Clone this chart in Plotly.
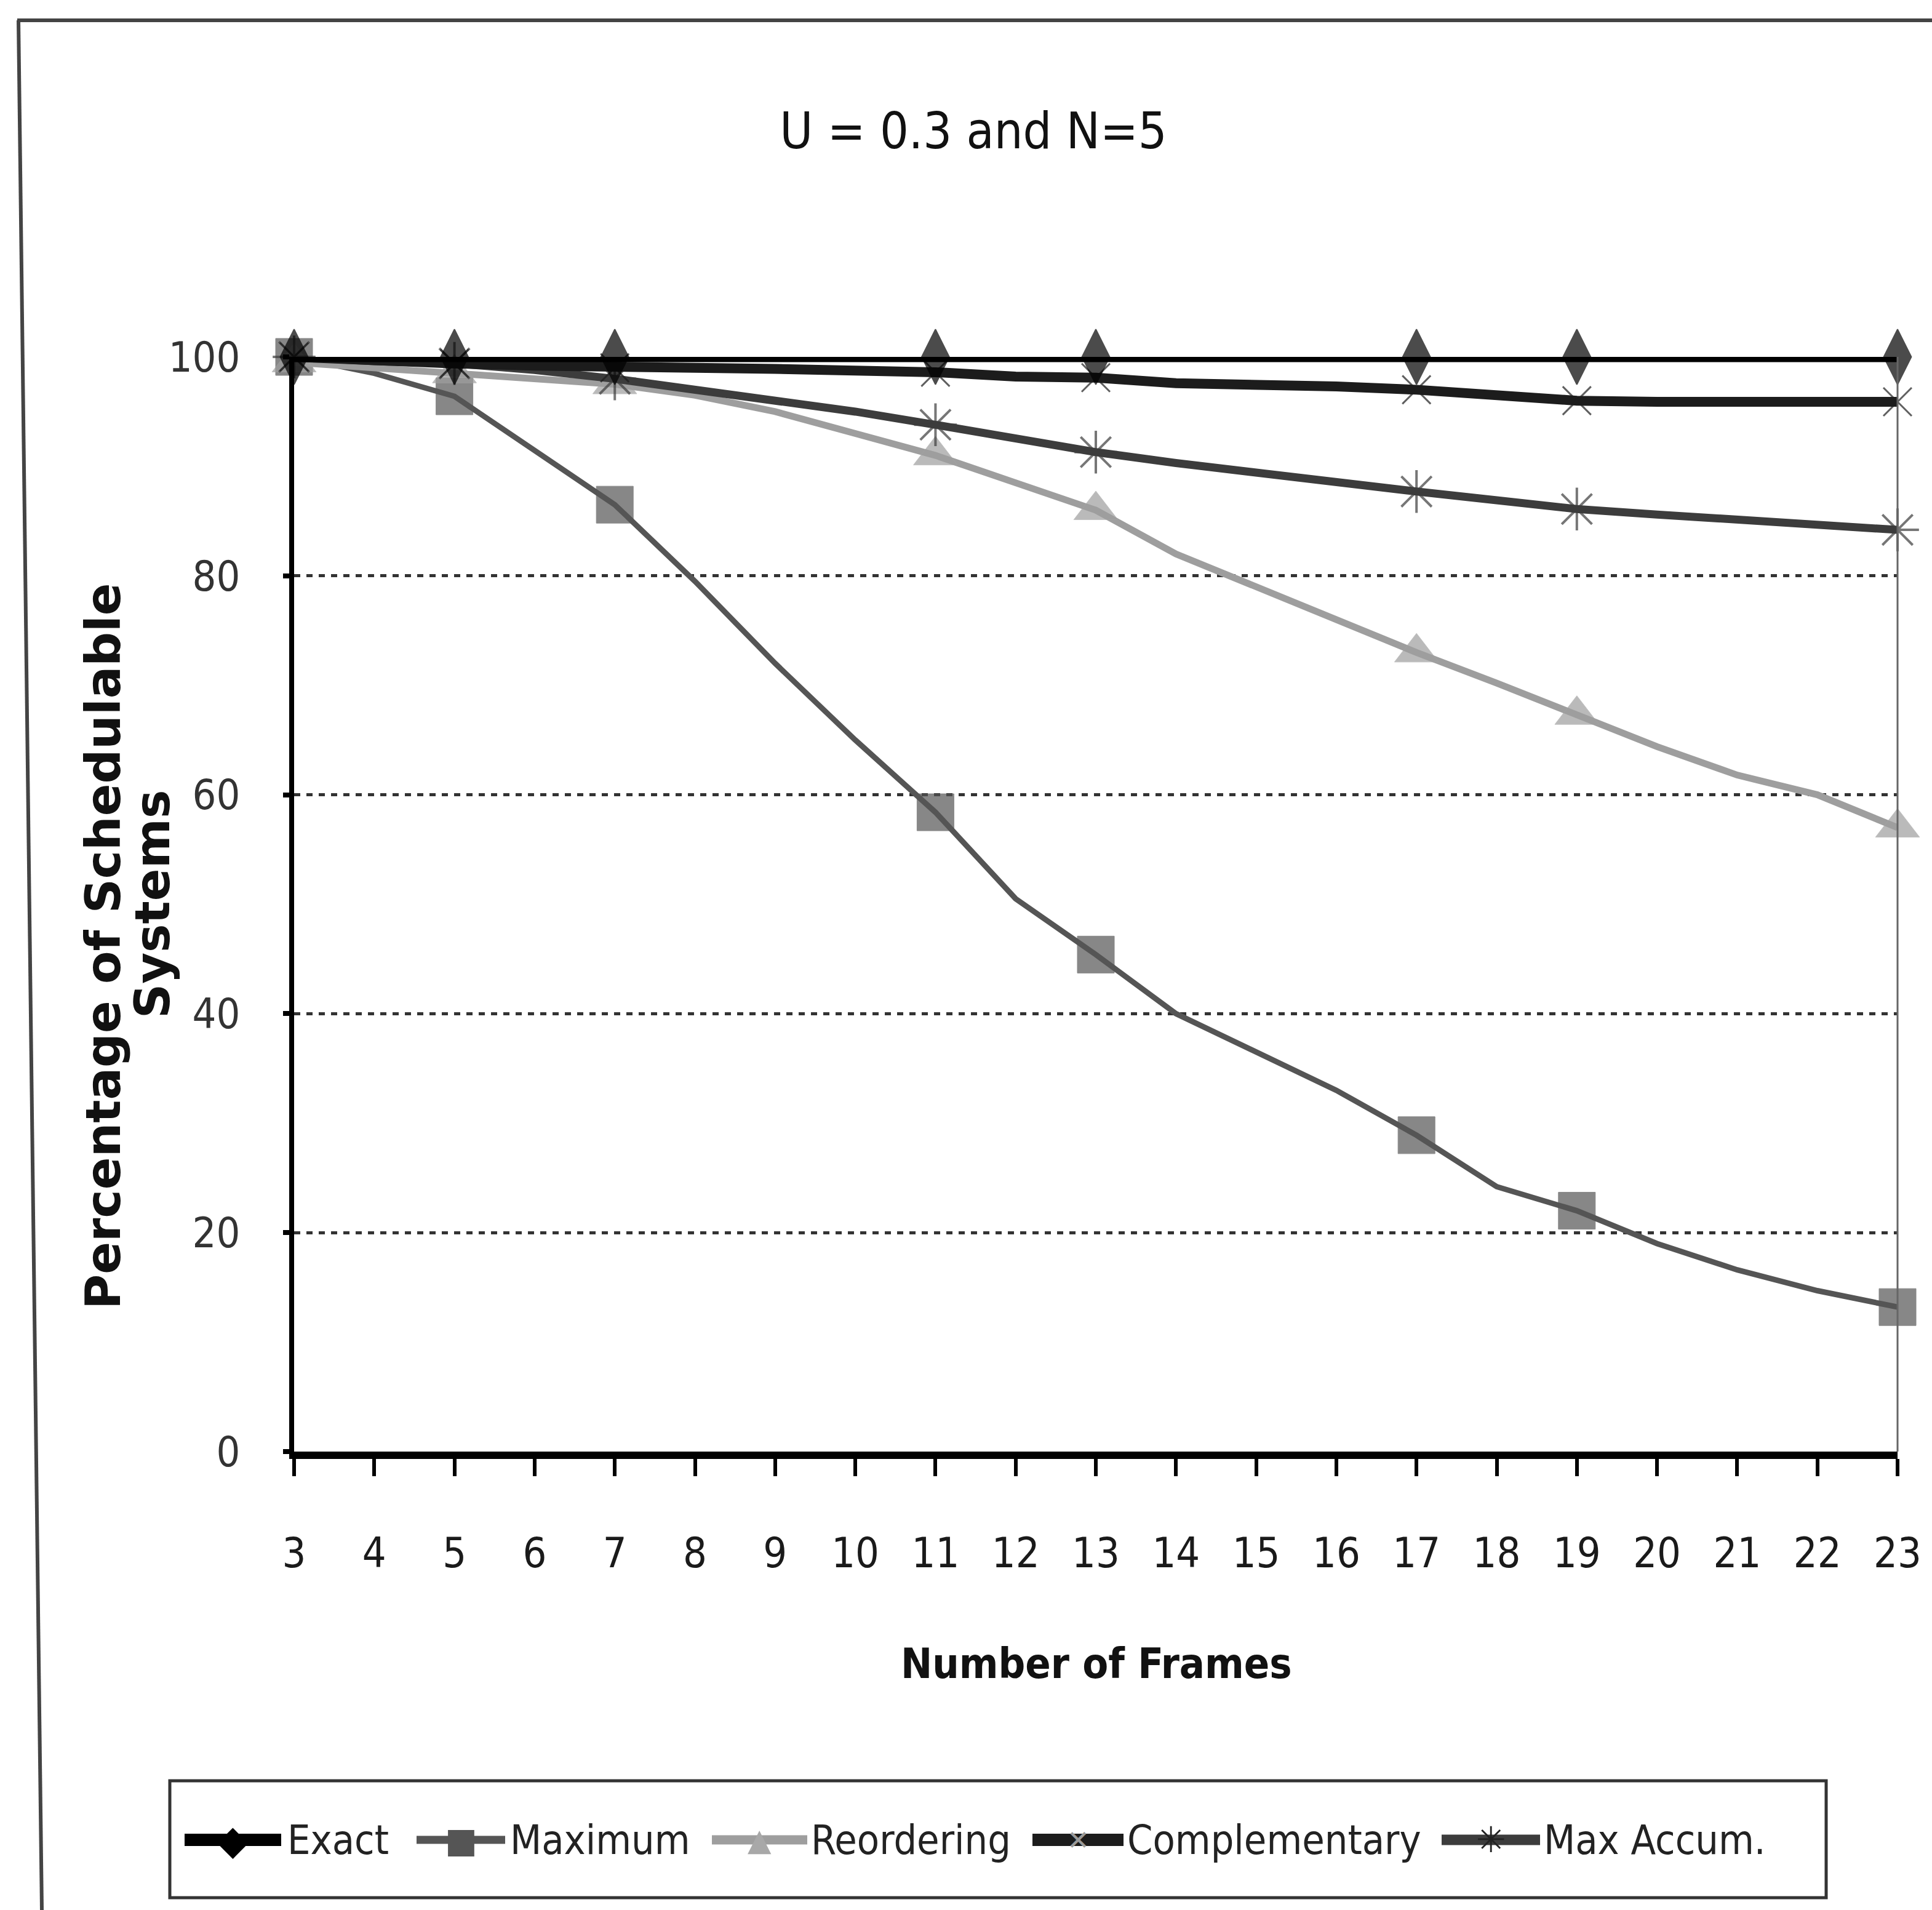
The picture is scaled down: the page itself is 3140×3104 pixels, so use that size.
import plotly.graph_objects as go

# ---------------- data ----------------
frames = [3, 4, 5, 6, 7, 8, 9, 10, 11, 12, 13, 14, 15, 16, 17, 18, 19, 20, 21, 22, 23]
marked_frames = [3, 5, 7, 11, 13, 17, 19, 23]

exact = [100, 100, 100, 100, 100, 100, 100, 100, 100, 100, 100,
         100, 100, 100, 100, 100, 100, 100, 100, 100, 100]
maximum = [100, 98.5, 96.4, 91.5, 86.5, 79.5, 72, 65, 58.4, 50.5, 45.4,
           40, 36.5, 33, 28.9, 24.2, 22.0, 19.0, 16.6, 14.7, 13.2]
reordering = [99.5, 99, 98.5, 98, 97.5, 96.5, 95, 93, 91, 88.5, 86,
              82, 79, 76, 73, 70.2, 67.3, 64.4, 61.8, 60, 57]
complementary = [100, 99.6, 99.4, 99.2, 99, 99, 98.9, 98.8, 98.6, 98.2, 98.1,
                 97.6, 97.5, 97.3, 97.0, 96.5, 96.0, 95.9, 95.9, 95.9, 95.9]
max_accum = [100, 99.6, 99.4, 98.8, 98, 97, 96, 95, 93.8, 92.6, 91.3,
             90.3, 89.4, 88.5, 87.7, 86.9, 86.1, 85.6, 85.1, 84.6, 84.2]

series_names = ["Exact", "Maximum", "Reordering", "Complementary", "Max Accum."]
y_ticks = [0, 20, 40, 60, 80, 100]

title_text = "U = 0.3 and N=5"
x_title = "Number of Frames"
y_title_1 = "Percentage of Schedulable"
y_title_2 = "Systems"

# ---------------- styling ----------------
NARROW = "Liberation Sans Narrow, Arial Narrow, DejaVu Sans Condensed, sans-serif"
W, H = 3140, 3104
L, R, T, B = 478, 3084, 580, 2359  # plot area box in pixels


def px(x):
    return (x - L) / (R - L)


def py(y):
    return (B - y) / (B - T)


styles = {
    "Exact": dict(color="#000000", width=17, symbol="diamond-tall", size=64,
                  mline="#000000", mlw=2, glyph="\u25C6", gsize=66, gcolor="#000000"),
    "Maximum": dict(color="#555555", width=9, symbol="square", size=60,
                    mline="#555555", mlw=1, glyph="\u25A0", gsize=56, gcolor="#555555"),
    "Reordering": dict(color="#9e9e9e", width=11, symbol="triangle-up", size=62,
                       mline="#a6a6a6", mlw=1, glyph="\u25B2", gsize=50, gcolor="#a8a8a8"),
    "Complementary": dict(color="#1c1c1c", width=16, symbol="x-thin-open", size=46,
                          mline="#8a8a8a", mlw=3, glyph="\u2715", gsize=44, gcolor="#9a9a9a"),
    "Max Accum.": dict(color="#3c3c3c", width=13, symbol="asterisk-open", size=58,
                       mline="#222222", mlw=4, glyph="\u2733", gsize=58, gcolor="#222222"),
}

values = {
    "Exact": exact,
    "Maximum": maximum,
    "Reordering": reordering,
    "Complementary": complementary,
    "Max Accum.": max_accum,
}

draw_order = ["Maximum", "Reordering", "Max Accum.", "Complementary", "Exact"]

fig = go.Figure()
for name in draw_order:
    st = styles[name]
    sizes = [st["size"] if f in marked_frames else 0 for f in frames]
    fig.add_trace(go.Scatter(
        x=frames, y=values[name], name=name, mode="lines+markers",
        line=dict(color=st["color"], width=st["width"]),
        marker=dict(symbol=st["symbol"], size=sizes, color=st["color"],
                    line=dict(color=st["mline"], width=st["mlw"])),
        cliponaxis=False, showlegend=False,
    ))

fig.update_layout(
    width=W, height=H,
    margin=dict(l=L, r=W - R, t=T, b=H - B, autoexpand=False),
    paper_bgcolor="white", plot_bgcolor="white",
    title=dict(text=title_text, x=1582 / W, xanchor="center",
               y=1 - 212 / H, yanchor="middle",
               font=dict(family=NARROW, size=82, color="#111111")),
    xaxis=dict(range=[3, 23], tickmode="array", tickvals=frames,
               ticktext=[str(f) for f in frames],
               showline=True, linecolor="#000000", linewidth=12,
               ticks="outside", ticklen=28, tickwidth=6, tickcolor="#000000",
               tickfont=dict(family=NARROW, size=68, color="#1a1a1a"),
               ticklabelstandoff=66,
               showgrid=False, zeroline=False),
    yaxis=dict(range=[0, 100], tickmode="array", tickvals=y_ticks,
               showline=True, linecolor="#000000", linewidth=8,
               ticks="outside", ticklen=10, tickwidth=8, tickcolor="#000000",
               tickfont=dict(family=NARROW, size=68, color="#333333"),
               ticklabelstandoff=56,
               showgrid=True, gridcolor="#333333", gridwidth=5,
               griddash="10px,10px", zeroline=False),
)

shapes = []
# thin right border of plot area
shapes.append(dict(type="line", xref="paper", yref="paper", x0=1, x1=1, y0=0, y1=1,
                   line=dict(color="#666666", width=3)))
# outer chart frame (top & left visible)
shapes.append(dict(type="line", xref="paper", yref="paper",
                   x0=px(28), x1=px(3140), y0=py(33), y1=py(33),
                   line=dict(color="#444444", width=6)))
shapes.append(dict(type="line", xref="paper", yref="paper",
                   x0=px(30), x1=px(68), y0=py(33), y1=py(3104),
                   line=dict(color="#444444", width=6)))
# legend box
shapes.append(dict(type="rect", xref="paper", yref="paper",
                   x0=px(276), x1=px(2968), y0=py(2894), y1=py(3084),
                   line=dict(color="#333333", width=5), fillcolor="rgba(0,0,0,0)"))

annotations = []
# axis titles
annotations.append(dict(text="<b>" + x_title + "</b>", xref="paper", yref="paper",
                        x=px(1782), y=py(2703), xanchor="center", yanchor="middle",
                        showarrow=False, font=dict(family=NARROW, size=68, color="#111111")))
annotations.append(dict(text="<b>" + y_title_1 + "</b>", xref="paper", yref="paper",
                        x=px(168), y=py(1538), xanchor="center", yanchor="middle",
                        textangle=-90, showarrow=False,
                        font=dict(family="DejaVu Sans", size=78, color="#111111")))
annotations.append(dict(text="<b>" + y_title_2 + "</b>", xref="paper", yref="paper",
                        x=px(248), y=py(1470), xanchor="center", yanchor="middle",
                        textangle=-90, showarrow=False,
                        font=dict(family="DejaVu Sans", size=78, color="#111111")))

# manual legend
legend_slots = {  # (line start, line end, text start) in pixels
    "Exact": (300, 457, 465),
    "Maximum": (677, 821, 827),
    "Reordering": (1157, 1312, 1316),
    "Complementary": (1678, 1826, 1830),
    "Max Accum.": (2343, 2503, 2507),
}
leg_y = 2990
for name in series_names:
    st = styles[name]
    x0, x1, xt = legend_slots[name]
    shapes.append(dict(type="line", xref="paper", yref="paper",
                       x0=px(x0), x1=px(x1), y0=py(leg_y), y1=py(leg_y),
                       line=dict(color=st["color"], width=min(st["width"], 16) + 4)))
    annotations.append(dict(text=st["glyph"], xref="paper", yref="paper",
                            x=px((x0 + x1) / 2), y=py(leg_y), xanchor="center", yanchor="middle",
                            showarrow=False,
                            font=dict(family="DejaVu Sans", size=st["gsize"], color=st["gcolor"])))
    annotations.append(dict(text=name, xref="paper", yref="paper",
                            x=px(xt), y=py(leg_y), xanchor="left", yanchor="middle",
                            showarrow=False,
                            font=dict(family=NARROW, size=66, color="#222222")))

fig.update_layout(shapes=shapes, annotations=annotations)
fig.write_html("out.html")
